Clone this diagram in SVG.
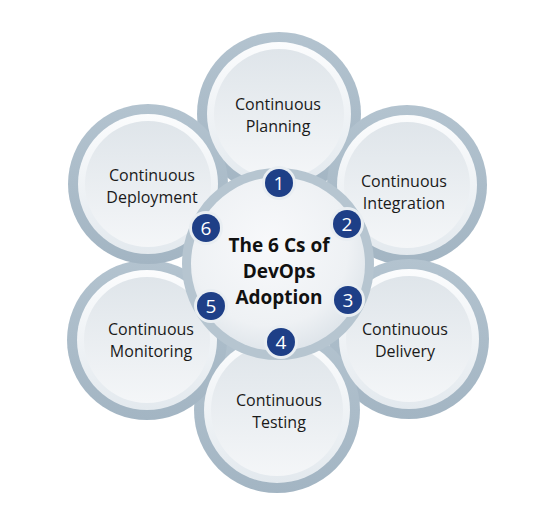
<svg xmlns="http://www.w3.org/2000/svg" width="549" height="530" viewBox="0 0 549 530">
<defs>
<linearGradient id="rim" x1="0" y1="0" x2="0" y2="1">
<stop offset="0" stop-color="#fbfcfd"/>
<stop offset="1" stop-color="#e3e9ee"/>
</linearGradient>
<linearGradient id="disc" x1="0" y1="0" x2="0" y2="1">
<stop offset="0" stop-color="#dfe5ea"/>
<stop offset="1" stop-color="#f4f6f8"/>
</linearGradient>
<radialGradient id="hub" cx="0.45" cy="0.4" r="0.65">
<stop offset="0" stop-color="#f8f9fb"/>
<stop offset="0.7" stop-color="#eef1f4"/>
<stop offset="1" stop-color="#dbe2e8"/>
</radialGradient>
<linearGradient id="ring" x1="0" y1="0" x2="0" y2="1">
<stop offset="0" stop-color="#b3c3cf"/>
<stop offset="1" stop-color="#a3b5c3"/>
</linearGradient>
</defs>
<style>
.ring{fill:url(#ring);}
.rim{fill:url(#rim);}
.disc{fill:url(#disc);}
.lbl{font-family:"Open Sans","DejaVu Sans",sans-serif;font-size:16px;fill:#1a1a1a;text-anchor:middle;}
.title{font-family:"Open Sans","DejaVu Sans",sans-serif;font-size:19px;font-weight:bold;fill:#111;text-anchor:middle;}
.bo{fill:#e9eef2;}
.bi{fill:#1e3f87;}
.num{font-family:"Open Sans","DejaVu Sans",sans-serif;font-size:19px;fill:#ffffff;text-anchor:middle;}
</style>
<rect width="549" height="530" fill="#ffffff"/>
<g id="backdrop">
<circle class="ring" cx="279" cy="114" r="82"/>
<circle class="ring" cx="407" cy="185" r="80"/>
<circle class="ring" cx="409" cy="339" r="80"/>
<circle class="ring" cx="277" cy="410" r="83"/>
<circle class="ring" cx="147" cy="340" r="80"/>
<circle class="ring" cx="148" cy="184" r="80"/>
</g>
<g id="petal-planning">
<circle class="rim" cx="279" cy="114" r="72"/>
<circle class="disc" cx="279" cy="114" r="65"/>
<text class="lbl" x="278" y="110">Continuous</text>
<text class="lbl" x="278" y="132">Planning</text>
</g>
<g id="petal-integration">
<circle class="rim" cx="407" cy="185" r="70"/>
<circle class="disc" cx="407" cy="185" r="63"/>
<text class="lbl" x="404" y="187">Continuous</text>
<text class="lbl" x="404" y="209">Integration</text>
</g>
<g id="petal-delivery">
<circle class="rim" cx="409" cy="339" r="70"/>
<circle class="disc" cx="409" cy="339" r="63"/>
<text class="lbl" x="405" y="335">Continuous</text>
<text class="lbl" x="405" y="357">Delivery</text>
</g>
<g id="petal-testing">
<circle class="rim" cx="277" cy="410" r="73"/>
<circle class="disc" cx="277" cy="410" r="66"/>
<text class="lbl" x="279" y="406">Continuous</text>
<text class="lbl" x="279" y="428">Testing</text>
</g>
<g id="petal-monitoring">
<circle class="rim" cx="147" cy="340" r="70"/>
<circle class="disc" cx="147" cy="340" r="63"/>
<text class="lbl" x="151" y="335">Continuous</text>
<text class="lbl" x="151" y="357">Monitoring</text>
</g>
<g id="petal-deployment">
<circle class="rim" cx="148" cy="184" r="70"/>
<circle class="disc" cx="148" cy="184" r="63"/>
<text class="lbl" x="152" y="181">Continuous</text>
<text class="lbl" x="152" y="203">Deployment</text>
</g>
<g id="hub">
<circle cx="278" cy="264" r="96" fill="#b6c5d0"/>
<circle cx="278" cy="264" r="87" fill="url(#hub)"/>
<text class="title" x="279" y="252">The 6 Cs of</text>
<text class="title" x="279" y="278">DevOps</text>
<text class="title" x="279" y="304">Adoption</text>
</g>
<g id="badges">
<g id="badge-1"><circle class="bo" cx="279" cy="183" r="17"/><circle class="bi" cx="279" cy="183" r="14"/><text class="num" x="279" y="190">1</text></g>
<g id="badge-2"><circle class="bo" cx="347" cy="224" r="17"/><circle class="bi" cx="347" cy="224" r="14"/><text class="num" x="347" y="231">2</text></g>
<g id="badge-3"><circle class="bo" cx="348" cy="300" r="17"/><circle class="bi" cx="348" cy="300" r="14"/><text class="num" x="348" y="307">3</text></g>
<g id="badge-4"><circle class="bo" cx="281" cy="342" r="17"/><circle class="bi" cx="281" cy="342" r="14"/><text class="num" x="281" y="349">4</text></g>
<g id="badge-5"><circle class="bo" cx="211" cy="306" r="17"/><circle class="bi" cx="211" cy="306" r="14"/><text class="num" x="211" y="313">5</text></g>
<g id="badge-6"><circle class="bo" cx="206" cy="228" r="17"/><circle class="bi" cx="206" cy="228" r="14"/><text class="num" x="206" y="235">6</text></g>
</g>
</svg>
